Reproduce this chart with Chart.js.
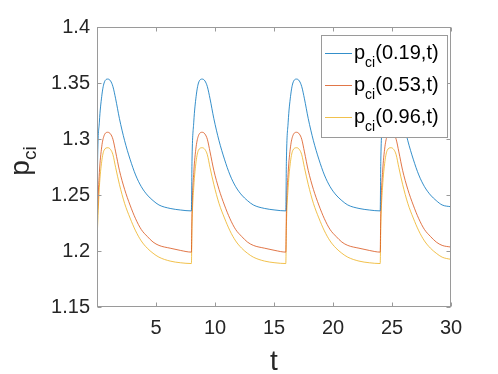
<!DOCTYPE html>
<html>
<head>
<meta charset="utf-8">
<script src="https://cdn.jsdelivr.net/npm/chart.js@4.4.1/dist/chart.umd.min.js"></script>
<style>
  html, body { margin: 0; padding: 0; background: #fff; }
  #wrap { width: 498px; height: 374px; }
</style>
</head>
<body>
<div id="wrap"><canvas id="pciChart"></canvas></div>
<script>
// ----------------------
//  DATA
// ----------------------
const tValues = [
    0, 0.05, 0.2, 0.4, 0.6, 0.92, 1.15, 1.35, 1.58, 1.9, 2.34, 2.8, 3.27, 3.75, 4.26, 4.75, 5.25, 6.2, 7.08, 8.0,
    8.05, 8.2, 8.4, 8.6, 8.92, 9.15, 9.35, 9.58, 9.9, 10.34, 10.8, 11.27, 11.75, 12.26, 12.75, 13.25, 14.2, 15.08, 16.0,
    16.05, 16.2, 16.4, 16.6, 16.92, 17.15, 17.35, 17.58, 17.9, 18.34, 18.8, 19.27, 19.75, 20.26, 20.75, 21.25, 22.2, 23.08, 24.0,
    24.05, 24.2, 24.4, 24.6, 24.92, 25.15, 25.35, 25.58, 25.9, 26.34, 26.8, 27.27, 27.75, 28.26, 28.75, 29.25, 30.0
];
const pci019 = [
    1.226, 1.280, 1.315, 1.338, 1.350, 1.3535, 1.3518, 1.3468, 1.3359, 1.3183, 1.2985, 1.2820, 1.2679, 1.2575, 1.2500, 1.2450, 1.2411, 1.2380, 1.2366, 1.2358,
    1.280, 1.315, 1.338, 1.350, 1.3535, 1.3518, 1.3468, 1.3359, 1.3183, 1.2985, 1.2820, 1.2679, 1.2575, 1.2500, 1.2450, 1.2411, 1.2380, 1.2366, 1.2358,
    1.280, 1.315, 1.338, 1.350, 1.3535, 1.3518, 1.3468, 1.3359, 1.3183, 1.2985, 1.2820, 1.2679, 1.2575, 1.2500, 1.2450, 1.2411, 1.2380, 1.2366, 1.2358,
    1.280, 1.315, 1.338, 1.350, 1.3535, 1.3518, 1.3468, 1.3359, 1.3183, 1.2985, 1.2820, 1.2679, 1.2575, 1.2500, 1.2450, 1.2411, 1.2395
];
const pci053 = [
    1.214, 1.235, 1.270, 1.293, 1.303, 1.306, 1.3044, 1.2998, 1.2885, 1.2720, 1.2550, 1.2410, 1.2288, 1.2192, 1.2130, 1.2080, 1.2050, 1.2025, 1.2005, 1.1990,
    1.235, 1.270, 1.293, 1.303, 1.306, 1.3044, 1.2998, 1.2885, 1.2720, 1.2550, 1.2410, 1.2288, 1.2192, 1.2130, 1.2080, 1.2050, 1.2025, 1.2005, 1.1990,
    1.235, 1.270, 1.293, 1.303, 1.306, 1.3044, 1.2998, 1.2885, 1.2720, 1.2550, 1.2410, 1.2288, 1.2192, 1.2130, 1.2080, 1.2050, 1.2025, 1.2005, 1.1990,
    1.235, 1.270, 1.293, 1.303, 1.306, 1.3044, 1.2998, 1.2885, 1.2720, 1.2550, 1.2410, 1.2288, 1.2192, 1.2130, 1.2080, 1.2050, 1.2035
];
const pci096 = [
    1.208, 1.222, 1.257, 1.280, 1.290, 1.2922, 1.2906, 1.2860, 1.2745, 1.2595, 1.2425, 1.2295, 1.2180, 1.2090, 1.2025, 1.1980, 1.1945, 1.1910, 1.1895, 1.1888,
    1.222, 1.257, 1.280, 1.290, 1.2922, 1.2906, 1.2860, 1.2745, 1.2595, 1.2425, 1.2295, 1.2180, 1.2090, 1.2025, 1.1980, 1.1945, 1.1910, 1.1895, 1.1888,
    1.222, 1.257, 1.280, 1.290, 1.2922, 1.2906, 1.2860, 1.2745, 1.2595, 1.2425, 1.2295, 1.2180, 1.2090, 1.2025, 1.1980, 1.1945, 1.1910, 1.1895, 1.1888,
    1.222, 1.257, 1.280, 1.290, 1.2922, 1.2906, 1.2860, 1.2745, 1.2595, 1.2425, 1.2295, 1.2180, 1.2090, 1.2025, 1.1980, 1.1945, 1.1925
];
const seriesArgs = ['(0.19,t)', '(0.53,t)', '(0.96,t)'];
const seriesColors = ['#0072BD', '#D95319', '#EDB120'];
const xTicks = [5, 10, 15, 20, 25, 30];
const yTicks = [1.15, 1.2, 1.25, 1.3, 1.35, 1.4];

const FONT = '"Liberation Sans", Arial, sans-serif';
const FRAME = '#9a9a9a';

function toPoints(ys) {
    return ys.map((y, i) => ({ x: tValues[i], y: y }));
}

// ----------------------
//  FRAME / LEGEND / TITLES (matlab look)
// ----------------------
const matlabFrame = {
    id: 'matlabFrame',
    afterDatasetsDraw(chart) {
        const { ctx, chartArea: a, scales } = chart;
        const L = Math.round(a.left) + 0.5, R = Math.round(a.right) - 0.5;
        const T = Math.round(a.top) + 0.5, B = Math.round(a.bottom) - 0.5;
        ctx.save();
        ctx.strokeStyle = FRAME;
        ctx.lineWidth = 1;
        ctx.strokeRect(L, T, R - L, B - T);

        // inward ticks on all four sides
        const tl = 4;
        ctx.beginPath();
        xTicks.forEach(v => {
            const px = Math.round(scales.x.getPixelForValue(v)) + 0.5;
            ctx.moveTo(px, B); ctx.lineTo(px, B - tl);
            ctx.moveTo(px, T); ctx.lineTo(px, T + tl);
        });
        yTicks.forEach(v => {
            const py = Math.round(scales.y.getPixelForValue(v)) + 0.5;
            ctx.moveTo(L, py); ctx.lineTo(L + tl, py);
            ctx.moveTo(R, py); ctx.lineTo(R - tl, py);
        });
        ctx.stroke();

        // legend box
        const lx = 321.5, ly = 35.5, lw = 126, lh = 102;
        ctx.fillStyle = '#fff';
        ctx.fillRect(lx, ly, lw, lh);
        ctx.strokeRect(lx, ly, lw, lh);
        const rowY = [53.5, 85.5, 117.5];
        seriesArgs.forEach((arg, i) => {
            const y = rowY[i];
            ctx.strokeStyle = seriesColors[i];
            ctx.lineWidth = 0.8;
            ctx.beginPath();
            ctx.moveTo(325, y); ctx.lineTo(352, y);
            ctx.stroke();
            ctx.fillStyle = '#000';
            ctx.textAlign = 'left';
            ctx.textBaseline = 'alphabetic';
            let x = 354;
            ctx.font = '20px ' + FONT;
            ctx.fillText('p', x, y + 5);
            x += ctx.measureText('p').width;
            ctx.font = '14px ' + FONT;
            ctx.fillText('ci', x, y + 13);
            x += ctx.measureText('ci').width;
            ctx.font = '20px ' + FONT;
            ctx.fillText(arg, x, y + 5);
        });

        // axis titles
        ctx.fillStyle = '#262626';
        ctx.font = '28px ' + FONT;
        ctx.textAlign = 'center';
        ctx.fillText('t', (a.left + a.right) / 2, 370);

        ctx.translate(29, 161);
        ctx.rotate(-Math.PI / 2);
        ctx.textAlign = 'left';
        ctx.font = '28px ' + FONT;
        const wp = ctx.measureText('p').width;
        ctx.font = '19px ' + FONT;
        const wc = ctx.measureText('ci').width;
        const start = -(wp + wc) / 2;
        ctx.font = '28px ' + FONT;
        ctx.fillText('p', start, 0);
        ctx.font = '19px ' + FONT;
        ctx.fillText('ci', start + wp, 7);
        ctx.restore();
    }
};

// ----------------------
//  CHART
// ----------------------
const options = {
    responsive: true,
    maintainAspectRatio: false,
    animation: false,
    layout: { padding: { top: 27, right: 47, left: 0, bottom: 0 } },
    elements: {
        point: { radius: 0 },
        line: { borderWidth: 0.8, cubicInterpolationMode: 'monotone' }
    },
    plugins: {
        legend: { display: false },
        tooltip: { enabled: false }
    },
    scales: {
        x: {
            type: 'linear',
            min: 0,
            max: 30,
            grid: { display: false, drawTicks: false },
            border: { display: false },
            afterBuildTicks: s => { s.ticks = xTicks.map(v => ({ value: v })); },
            afterFit: s => { s.height = 67; },
            ticks: {
                color: '#262626',
                font: { family: FONT, size: 20 },
                padding: 9,
                maxRotation: 0,
                autoSkip: false,
                callback: v => String(v)
            }
        },
        y: {
            min: 1.15,
            max: 1.4,
            grid: { display: false, drawTicks: false },
            border: { display: false },
            afterBuildTicks: s => { s.ticks = yTicks.map(v => ({ value: v })); },
            afterFit: s => { s.width = 97; },
            ticks: {
                color: '#262626',
                font: { family: FONT, size: 20 },
                padding: 7,
                autoSkip: false,
                callback: v => String(Math.round(v * 100) / 100)
            }
        }
    }
};

const chartData = {
    datasets: [pci019, pci053, pci096].map((ys, i) => ({
        label: 'p_ci' + seriesArgs[i],
        data: toPoints(ys),
        borderColor: seriesColors[i],
        fill: false
    }))
};

const ctx = document.getElementById('pciChart').getContext('2d');
const pciChart = new Chart(ctx, {
    type: 'line',
    data: chartData,
    options: options,
    plugins: [matlabFrame]
});
</script>
</body>
</html>
